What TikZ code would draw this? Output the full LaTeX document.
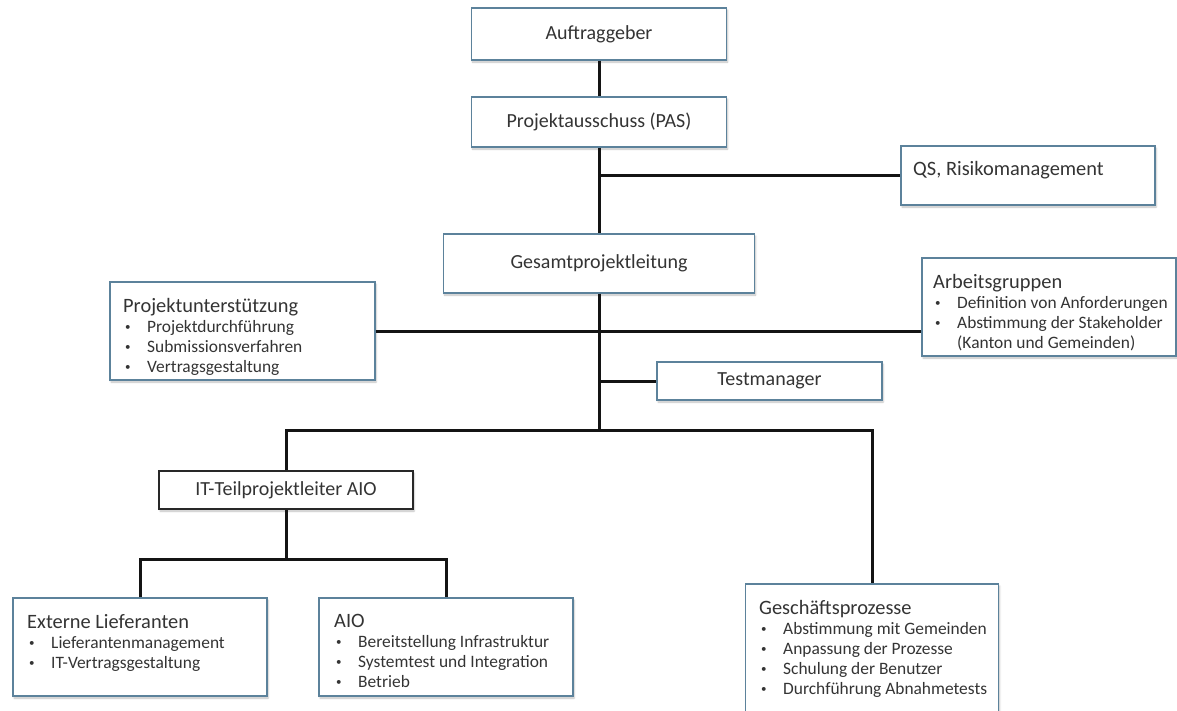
\documentclass[tikz,border=0pt]{standalone}
\usepackage{fontspec}
\setmainfont{Carlito}
\usetikzlibrary{shadows.blur}
\definecolor{orgcolor0000}{RGB}{255,255,255}
\definecolor{orgcolor0001}{RGB}{20,20,20}
\definecolor{orgcolor0002}{RGB}{92,130,155}
\definecolor{orgcolor0003}{RGB}{52,52,52}
\definecolor{orgcolor0004}{RGB}{40,40,40}
\newcommand{\orgitem}[1]{\hspace*{2pt}\makebox[22pt][l]{\raisebox{1.8pt}{\fontsize{11}{11}\selectfont\textbullet}}#1}
\begin{document}
\begin{tikzpicture}[yscale=-1,x=1pt,y=1pt
,bstyle1/.style={draw=orgcolor0002,fill=orgcolor0000,line width=1.2pt,inner sep=0pt,blur shadow={shadow blur steps=5,shadow xshift=1pt,shadow yshift=-2pt,shadow opacity=25}}
,bstyle2/.style={bstyle1,draw=orgcolor0004,line width=2pt}
,tstyle1/.style={text=orgcolor0003,font=\fontsize{20}{24}\selectfont}
,tstyle2/.style={text=orgcolor0003,anchor=north west,inner sep=0pt,align=left,font=\fontsize{20.4}{20}\selectfont}
,lstyle/.style={color=orgcolor0001,line width=3pt,line join=miter}
]
\useasboundingbox (0,0) rectangle (1177,710);
% boxes
\node[bstyle1,tstyle1,minimum width=255pt,minimum height=52pt] (auftrag) at (599,34) {Auftraggeber};
\node[bstyle1,tstyle1,minimum width=255pt,minimum height=50pt] (pas) at (599,122) {Projektausschuss (PAS)};
\node[bstyle1,minimum width=254pt,minimum height=59pt] (qs) at (1028,175.5) {};
\node[tstyle2] (qs-t) at (913,161) {QS, Risikomanagement};
\node[bstyle1,tstyle1,minimum width=311pt,minimum height=59pt] (gesamt) at (599,263.5) {Gesamtprojektleitung};
\node[bstyle1,minimum width=265pt,minimum height=98pt] (unterst) at (242.5,331) {};
\node[tstyle2] (unterst-t) at (123,298) {Projektunterstützung\\
{\fontsize{17.4}{20}\selectfont\orgitem{Projektdurchführung}}\\
{\fontsize{17.4}{20}\selectfont\orgitem{Submissionsverfahren}}\\
{\fontsize{17.4}{20}\selectfont\orgitem{Vertragsgestaltung}}};
\node[bstyle1,minimum width=254pt,minimum height=98pt] (arbeit) at (1049,307) {};
\node[tstyle2] (arbeit-t) at (933,274) {Arbeitsgruppen\\
{\fontsize{17.4}{20}\selectfont\orgitem{Definition von Anforderungen}}\\
{\fontsize{17.4}{20}\selectfont\orgitem{Abstimmung der Stakeholder}}\\
{\fontsize{17.4}{20}\selectfont\hspace*{24pt}(Kanton und Gemeinden)}};
\node[bstyle1,tstyle1,minimum width=225pt,minimum height=38pt] (testm) at (769.5,381) {Testmanager};
\node[bstyle2,tstyle1,minimum width=254pt,minimum height=38pt] (itteil) at (286,490) {IT-Teilprojektleiter AIO};
\node[bstyle1,minimum width=254pt,minimum height=98pt] (extern) at (140,647) {};
\node[tstyle2] (extern-t) at (27,614) {Externe Lieferanten\\
{\fontsize{17.4}{20}\selectfont\orgitem{Lieferantenmanagement}}\\
{\fontsize{17.4}{20}\selectfont\orgitem{IT-Vertragsgestaltung}}};
\node[bstyle1,minimum width=254pt,minimum height=98pt] (aio) at (446,647) {};
\node[tstyle2] (aio-t) at (334,614) {AIO\\
{\fontsize{17.4}{20}\selectfont\orgitem{Bereitstellung Infrastruktur}}\\
{\fontsize{17.4}{20}\selectfont\orgitem{Systemtest und Integration}}\\
{\fontsize{17.4}{20}\selectfont\orgitem{Betrieb}}};
\node[bstyle1,minimum width=253pt,minimum height=132pt] (gp) at (872,650) {};
\node[tstyle2] (gp-t) at (759,600) {Geschäftsprozesse\\
{\fontsize{17.4}{20}\selectfont\orgitem{Abstimmung mit Gemeinden}}\\
{\fontsize{17.4}{20}\selectfont\orgitem{Anpassung der Prozesse}}\\
{\fontsize{17.4}{20}\selectfont\orgitem{Schulung der Benutzer}}\\
{\fontsize{17.4}{20}\selectfont\orgitem{Durchführung Abnahmetests}}};
% connectors
\coordinate (fork1) at (599,430);
\coordinate (fork2) at (286,559);
\draw[lstyle] (auftrag.south) -- (pas.north);
\draw[lstyle] (pas.south) -- (gesamt.north);
\draw[lstyle] (pas.south |- qs.west) -- (qs.west);
\draw[lstyle] (unterst.east) -- (unterst.east -| arbeit.west);
\draw[lstyle] (gesamt.south) -- (fork1);
\draw[lstyle] (fork1 |- testm.west) -- (testm.west);
\draw[lstyle] (itteil.north) |- (fork1) -| (gp.north);
\draw[lstyle] (itteil.south) -- (fork2);
\draw[lstyle] (extern.north) |- (fork2) -| (aio.north);
\end{tikzpicture}
\end{document}
